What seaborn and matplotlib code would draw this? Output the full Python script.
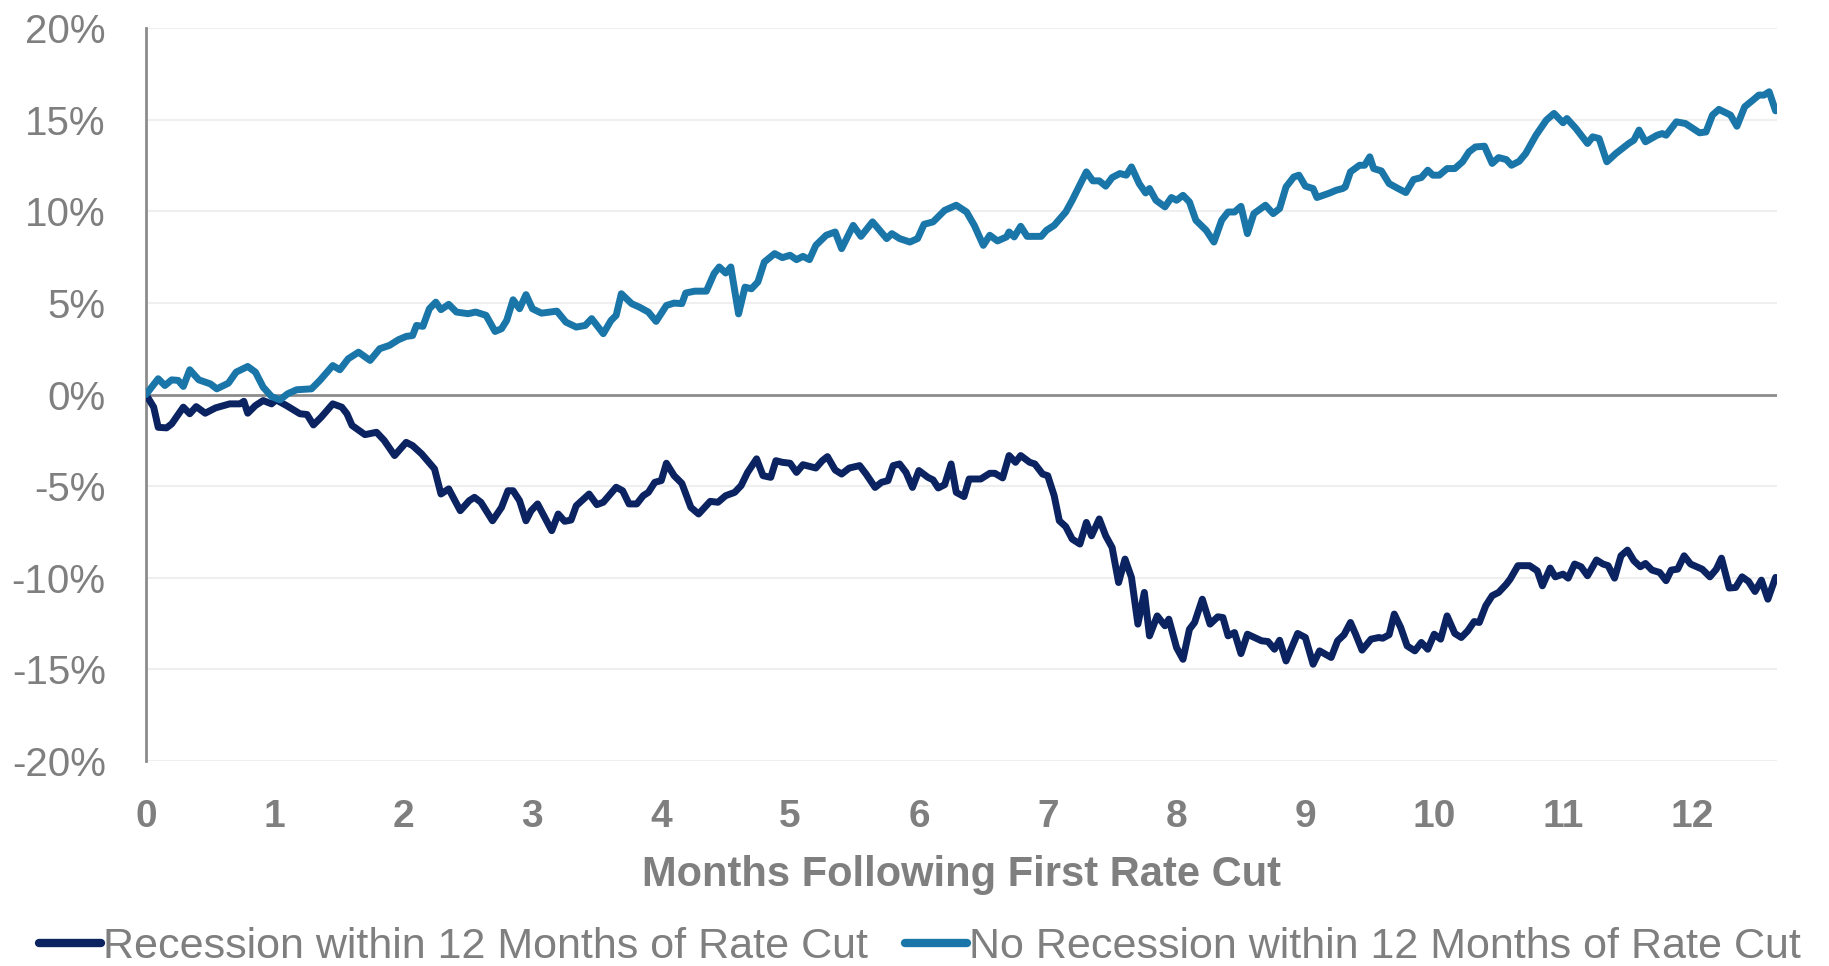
import pandas as pd
import matplotlib.pyplot as plt
import seaborn as sns

# Values (months after first cut, cumulative % return)
rec_months = [0, 0.06, 0.095, 0.16, 0.20, 0.29, 0.34, 0.39, 0.46, 0.54, 0.65, 0.73, 0.76, 0.79, 0.85,
              0.91, 0.975, 1.01, 1.09, 1.195, 1.25, 1.30, 1.36, 1.45, 1.52, 1.56, 1.60, 1.70, 1.79,
              1.85, 1.93, 2.02, 2.07, 2.14, 2.24, 2.29, 2.35, 2.44, 2.51, 2.55, 2.60, 2.69, 2.76,
              2.81, 2.85, 2.90, 2.95, 2.99, 3.04, 3.15, 3.20, 3.25, 3.30, 3.34, 3.44, 3.50, 3.55,
              3.65, 3.70, 3.75, 3.81, 3.86, 3.90, 3.95, 4.00, 4.04, 4.10, 4.16, 4.23, 4.29, 4.38,
              4.44, 4.50, 4.57, 4.62, 4.67, 4.74, 4.79, 4.85, 4.89, 4.94, 5.00, 5.05, 5.10, 5.20,
              5.25, 5.29, 5.35, 5.40, 5.46, 5.54, 5.59, 5.66, 5.71, 5.76, 5.80, 5.85, 5.90, 5.95,
              6.00, 6.07, 6.11, 6.15, 6.20, 6.25, 6.29, 6.35, 6.39, 6.48, 6.55, 6.59, 6.65, 6.70,
              6.75, 6.79, 6.86, 6.90, 6.96, 7.00, 7.05, 7.09, 7.14, 7.19, 7.25, 7.30, 7.34, 7.40,
              7.45, 7.50, 7.55, 7.60, 7.65, 7.70, 7.75, 7.79, 7.85, 7.91, 7.94, 8.00, 8.05, 8.10,
              8.14, 8.20, 8.26, 8.32, 8.36, 8.40, 8.45, 8.50, 8.55, 8.66, 8.71, 8.76, 8.80, 8.85,
              8.94, 9.00, 9.06, 9.11, 9.20, 9.25, 9.30, 9.35, 9.39, 9.44, 9.51, 9.57, 9.60, 9.65,
              9.69, 9.74, 9.79, 9.85, 9.90, 9.95, 10.00, 10.05, 10.10, 10.16, 10.21, 10.26, 10.31,
              10.35, 10.40, 10.45, 10.50, 10.56, 10.59, 10.65, 10.74, 10.80, 10.84, 10.90, 10.94,
              11.00, 11.04, 11.09, 11.14, 11.19, 11.26, 11.31, 11.35, 11.40, 11.45, 11.50, 11.55,
              11.60, 11.64, 11.69, 11.75, 11.80, 11.84, 11.89, 11.94, 11.99, 12.08, 12.14, 12.19,
              12.23, 12.29, 12.34, 12.39, 12.44, 12.49, 12.54, 12.59, 12.65]
rec_values = [0.0, -0.69, -1.79, -1.82, -1.60, -0.69, -1.05, -0.66, -1.02, -0.73, -0.51, -0.51, -0.37,
              -1.02, -0.60, -0.33, -0.51, -0.29, -0.60, -1.05, -1.09, -1.66, -1.24, -0.51, -0.69,
              -1.05, -1.69, -2.19, -2.06, -2.51, -3.33, -2.61, -2.79, -3.24, -4.06, -5.43, -5.15,
              -6.34, -5.79, -5.61, -5.88, -6.89, -6.16, -5.25, -5.25, -5.79, -6.89, -6.34, -5.97,
              -7.43, -6.52, -6.92, -6.85, -6.07, -5.43, -6.01, -5.88, -5.06, -5.25, -5.97, -5.97,
              -5.52, -5.34, -4.79, -4.70, -3.75, -4.43, -4.85, -6.16, -6.52, -5.83, -5.88, -5.52,
              -5.34, -4.97, -4.25, -3.51, -4.43, -4.52, -3.61, -3.70, -3.75, -4.25, -3.83, -4.01,
              -3.61, -3.39, -4.12, -4.34, -4.01, -3.88, -4.34, -5.07, -4.79, -4.70, -3.88, -3.79,
              -4.25, -5.07, -4.15, -4.52, -4.66, -5.10, -4.92, -3.79, -5.34, -5.57, -4.61, -4.61,
              -4.30, -4.30, -4.55, -3.33, -3.70, -3.33, -3.70, -3.79, -4.34, -4.43, -5.52, -6.89,
              -7.21, -7.89, -8.16, -6.98, -7.71, -6.79, -7.71, -8.35, -10.26, -8.98, -9.98, -12.53,
              -10.80, -13.17, -12.08, -12.62, -12.26, -13.81, -14.45, -12.81, -12.44, -11.17, -12.53,
              -12.13, -12.17, -13.17, -12.99, -14.14, -13.08, -13.44, -13.48, -13.90, -13.41, -14.54,
              -13.04, -13.26, -14.72, -13.99, -14.35, -13.44, -13.11, -12.44, -13.08, -13.95, -13.35,
              -13.26, -13.30, -13.11, -11.98, -12.71, -13.72, -13.99, -13.53, -13.90, -13.08, -13.35,
              -12.08, -13.04, -13.26, -12.90, -12.39, -12.44, -11.53, -10.98, -10.80, -10.35, -10.07,
              -9.34, -9.34, -9.62, -10.44, -9.47, -9.95, -9.80, -10.02, -9.25, -9.40, -9.89, -9.03,
              -9.25, -9.34, -10.02, -8.80, -8.49, -9.07, -9.40, -9.22, -9.58, -9.71, -10.16, -9.58,
              -9.53, -8.80, -9.25, -9.53, -9.95, -9.53, -8.93, -10.56, -10.53, -9.95, -10.20,
              -10.75, -10.13, -11.17, -9.98]

norec_months = [0, 0.095, 0.147, 0.20, 0.25, 0.29, 0.34, 0.41, 0.50, 0.55, 0.64, 0.70, 0.79, 0.85,
                0.91, 0.975, 1.04, 1.10, 1.17, 1.285, 1.35, 1.45, 1.505, 1.57, 1.65, 1.74, 1.815,
                1.89, 1.96, 2.02, 2.07, 2.10, 2.15, 2.20, 2.25, 2.29, 2.35, 2.41, 2.50, 2.56, 2.64,
                2.71, 2.76, 2.80, 2.85, 2.90, 2.95, 3.00, 3.07, 3.19, 3.26, 3.34, 3.41, 3.46, 3.55,
                3.61, 3.65, 3.69, 3.77, 3.83, 3.90, 3.96, 4.04, 4.10, 4.16, 4.19, 4.26, 4.35, 4.41,
                4.45, 4.50, 4.54, 4.60, 4.65, 4.70, 4.75, 4.80, 4.88, 4.94, 5.00, 5.05, 5.10, 5.15,
                5.20, 5.28, 5.35, 5.40, 5.49, 5.55, 5.64, 5.75, 5.79, 5.85, 5.93, 5.99, 6.04, 6.11,
                6.20, 6.29, 6.37, 6.43, 6.50, 6.55, 6.61, 6.68, 6.70, 6.74, 6.79, 6.84, 6.95, 6.99,
                7.05, 7.14, 7.19, 7.30, 7.35, 7.40, 7.45, 7.50, 7.56, 7.61, 7.65, 7.71, 7.76, 7.79,
                7.84, 7.91, 7.96, 8.00, 8.05, 8.10, 8.15, 8.23, 8.29, 8.35, 8.40, 8.45, 8.50, 8.55,
                8.60, 8.69, 8.75, 8.80, 8.85, 8.91, 8.95, 9.00, 9.06, 9.09, 9.19, 9.24, 9.29, 9.31,
                9.35, 9.42, 9.46, 9.50, 9.53, 9.59, 9.65, 9.72, 9.78, 9.84, 9.90, 9.95, 9.99, 10.04,
                10.10, 10.16, 10.22, 10.27, 10.32, 10.39, 10.45, 10.50, 10.56, 10.60, 10.66, 10.71,
                10.79, 10.87, 10.93, 11.00, 11.03, 11.10, 11.19, 11.23, 11.28, 11.34, 11.41, 11.51,
                11.55, 11.59, 11.64, 11.73, 11.77, 11.80, 11.88, 11.95, 12.06, 12.11, 12.16, 12.21,
                12.30, 12.35, 12.41, 12.48, 12.52, 12.56, 12.60, 12.65]
norec_values = [0.0, 0.86, 0.49, 0.80, 0.77, 0.44, 1.35, 0.80, 0.58, 0.31, 0.62, 1.22, 1.53, 1.22,
                0.40, -0.11, -0.29, 0.04, 0.26, 0.31, 0.77, 1.58, 1.35, 1.95, 2.31, 1.86, 2.50, 2.68,
                2.99, 3.17, 3.22, 3.77, 3.72, 4.68, 5.04, 4.63, 4.92, 4.50, 4.41, 4.50, 4.32, 3.44,
                3.59, 4.04, 5.17, 4.68, 5.45, 4.68, 4.44, 4.55, 3.95, 3.68, 3.77, 4.14, 3.32, 4.04,
                4.32, 5.50, 4.96, 4.77, 4.50, 3.99, 4.86, 4.99, 4.96, 5.54, 5.64, 5.64, 6.60, 6.96,
                6.63, 6.96, 4.40, 5.86, 5.77, 6.14, 7.23, 7.69, 7.47, 7.60, 7.36, 7.54, 7.36, 8.14,
                8.69, 8.87, 7.96, 9.23, 8.63, 9.42, 8.51, 8.78, 8.51, 8.32, 8.51, 9.29, 9.42, 10.05,
                10.33, 9.96, 9.23, 8.14, 8.69, 8.38, 8.60, 8.87, 8.60, 9.18, 8.63, 8.63, 8.96, 9.23,
                9.96, 10.60, 12.15, 11.66, 11.66, 11.37, 11.84, 12.06, 11.97, 12.42, 11.51, 11.00,
                11.24, 10.60, 10.24, 10.75, 10.60, 10.87, 10.51, 9.51, 8.96, 8.32, 9.51, 9.96, 9.96,
                10.27, 8.78, 9.87, 10.33, 9.87, 10.15, 11.33, 11.87, 11.97, 11.37, 11.24, 10.75,
                11.00, 11.15, 11.24, 11.33, 12.15, 12.51, 12.51, 12.97, 12.33, 12.20, 11.51, 11.24,
                11.02, 11.73, 11.84, 12.24, 11.97, 11.97, 12.33, 12.33, 12.70, 13.24, 13.51, 13.55,
                12.61, 12.93, 12.82, 12.51, 12.73, 13.15, 14.15, 14.97, 15.34, 14.83, 15.06, 14.52,
                13.70, 14.06, 13.97, 12.70, 13.15, 13.70, 13.88, 14.43, 13.79, 14.15, 14.24, 14.15,
                14.88, 14.79, 14.28, 14.33, 15.25, 15.56, 15.25, 14.64, 15.70, 16.10, 16.34, 16.34,
                16.52, 15.48]

series_names = ['Recession within 12 Months of Rate Cut', 'No Recession within 12 Months of Rate Cut']
x_ticks = [0, 1, 2, 3, 4, 5, 6, 7, 8, 9, 10, 11, 12]
y_ticks = [-20, -15, -10, -5, 0, 5, 10, 15, 20]
y_tick_labels = ['-20%', '-15%', '-10%', '-5%', '0%', '5%', '10%', '15%', '20%']

sns.set_style('white')
plt.rcParams['font.family'] = ['Liberation Sans', 'DejaVu Sans']

grey = '#7f7f7f'
navy = '#0b2361'
blue = '#1a76a8'

fig = plt.figure(figsize=(18.29, 9.66), dpi=100)
ax = fig.add_axes([0.0798, 0.2122, 0.8917, 0.7588])

for v in y_ticks:
    if v != 0:
        ax.axhline(v, color='#efefef', lw=1.5, zorder=0)
ax.axhline(0, color='#8c8c8c', lw=2, zorder=1)

sns.lineplot(x=rec_months, y=rec_values, color=navy, lw=5, ax=ax, label=series_names[0], zorder=3)
sns.lineplot(x=norec_months, y=norec_values, color=blue, lw=5, ax=ax, label=series_names[1], zorder=4)

ax.set_xlim(0, 12.66)
ax.set_ylim(-20, 20)
ax.set_yticks(y_ticks, y_tick_labels)
ax.set_xticks(x_ticks, [str(t) for t in x_ticks])

for s in ['top', 'right', 'bottom']:
    ax.spines[s].set_visible(False)
ax.spines['left'].set_color('#8c8c8c')
ax.spines['left'].set_linewidth(2)

ax.tick_params(axis='y', length=0, pad=29, labelsize=29, labelcolor=grey)
ax.tick_params(axis='x', length=0, pad=27, labelsize=28, labelcolor=grey)
for lbl in ax.get_xticklabels():
    lbl.set_fontweight('bold')

ax.set_xlabel('Months Following First Rate Cut', fontsize=30, fontweight='bold', color=grey, labelpad=15)
ax.set_ylabel('')

ax.legend(loc='center', bbox_to_anchor=(0.503, 0.02), bbox_transform=fig.transFigure, ncol=2,
          frameon=False, fontsize=31, labelcolor=grey, handlelength=1.45, handletextpad=0.05,
          columnspacing=0.85, borderpad=0.1)
leg = ax.get_legend()
for h in leg.get_lines():
    h.set_linewidth(6)

fig.savefig('out.png', dpi=100)
